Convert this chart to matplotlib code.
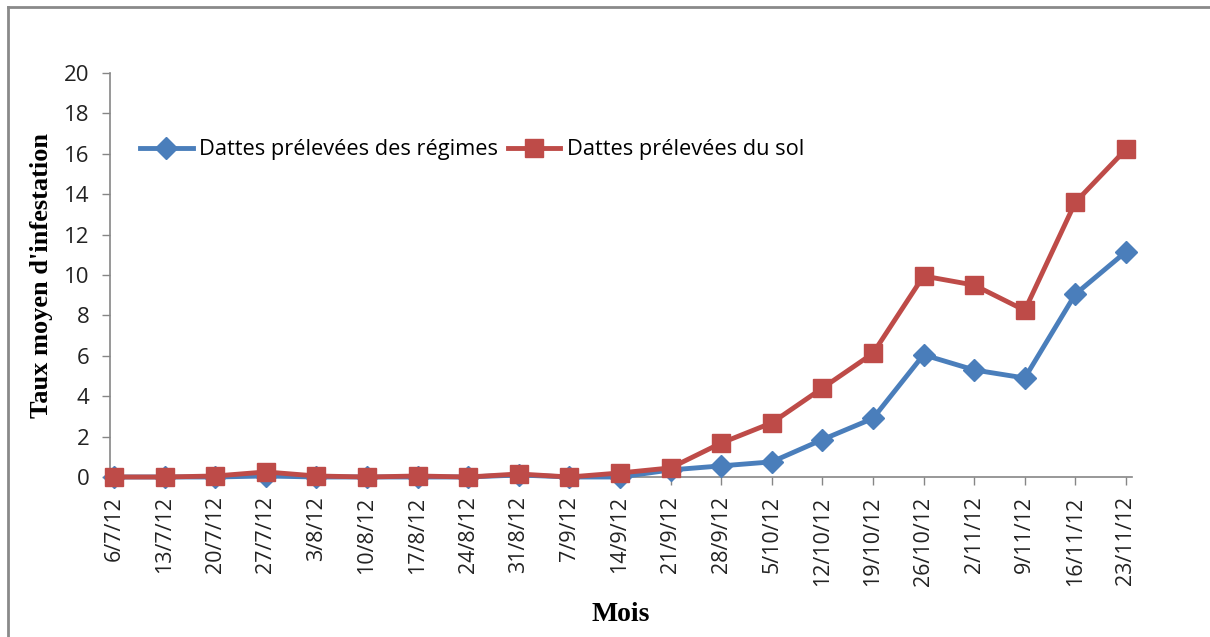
import matplotlib
matplotlib.use("Agg")
import matplotlib.pyplot as plt
from matplotlib.lines import Line2D

dates = ["6/7/12", "13/7/12", "20/7/12", "27/7/12", "3/8/12", "10/8/12", "17/8/12",
         "24/8/12", "31/8/12", "7/9/12", "14/9/12", "21/9/12", "28/9/12", "5/10/12",
         "12/10/12", "19/10/12", "26/10/12", "2/11/12", "9/11/12", "16/11/12", "23/11/12"]
regimes = [0, 0, 0, 0.05, 0, 0, 0, 0, 0.1, 0, 0, 0.35, 0.55, 0.75, 1.85, 2.9,
           6.05, 5.3, 4.9, 9.05, 11.15]
sol = [0, 0, 0.05, 0.25, 0.05, 0, 0.05, 0, 0.15, 0, 0.2, 0.45, 1.68, 2.68, 4.4, 6.12,
       9.95, 9.5, 8.25, 13.6, 16.22]
yticks = list(range(0, 21, 2))

blue = "#4A7EBB"
red = "#BE4B48"
grey = "#868686"

fig = plt.figure(figsize=(12.1, 6.37), dpi=100)
ax = fig.add_axes([110/1210, 1-477/637, (1132-110)/1210, (477-73)/637])

x = list(range(len(dates)))
ax.plot(x, regimes, color=blue, lw=3.5, marker="D", ms=11, mfc=blue, mec=blue,
        label="Dattes prélevées des régimes", zorder=3, clip_on=False)
ax.plot(x, sol, color=red, lw=3.5, marker="s", ms=13.5, mfc=red, mec=red,
        label="Dattes prélevées du sol", zorder=4, clip_on=False)

ax.set_xlim(-0.08, 20.12)
ax.set_ylim(0, 20)
ax.set_yticks(yticks)
ax.set_xticks(x)
ax.set_xticklabels(dates, rotation=90, fontsize=15.5, family="Open Sans", color="#222222")
for lab in ax.get_yticklabels():
    lab.set_fontsize(16)
    lab.set_family("Open Sans")
    lab.set_color("#222222")
ax.tick_params(axis="both", direction="out", length=6, color=grey, width=1)
ax.tick_params(axis="y", pad=9)
ax.tick_params(axis="x", pad=8)
for s in ["top", "right"]:
    ax.spines[s].set_visible(False)
for s in ["left", "bottom"]:
    ax.spines[s].set_color(grey)
    ax.spines[s].set_linewidth(1.2)

ax.set_ylabel("Taux moyen d'infestation", fontsize=19, fontweight="bold",
              family="Liberation Serif", labelpad=8)
ax.set_xlabel("Mois", fontsize=20, fontweight="bold", family="Liberation Serif",
              labelpad=12)

leg = ax.legend(loc="upper left", bbox_to_anchor=(0.021, 0.857), ncol=2, frameon=False,
                prop={"family": "Open Sans", "size": 15.7}, handlelength=2.4,
                columnspacing=0.45, handletextpad=0.3, borderaxespad=0)

# outer frame (top and left edges visible)
fig.add_artist(Line2D([8/1210, 1], [1-7/637, 1-7/637], transform=fig.transFigure,
                      color="#8a8a8a", lw=2))
fig.add_artist(Line2D([8/1210, 8/1210], [0, 1-7/637], transform=fig.transFigure,
                      color="#8a8a8a", lw=2))

fig.savefig("out.png", dpi=100)
